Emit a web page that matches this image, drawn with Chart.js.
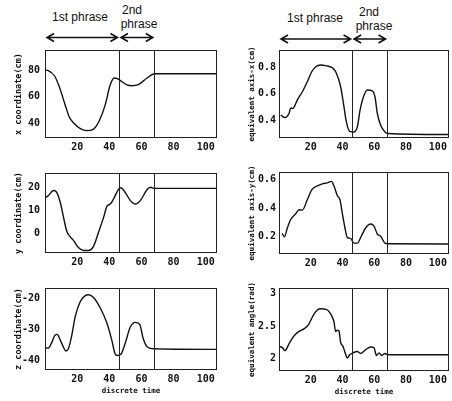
<!DOCTYPE html>
<html>
<head>
<meta charset="utf-8">
<script src="https://cdn.jsdelivr.net/npm/chart.js@4.4.0/dist/chart.umd.min.js"></script>
<style>
body { margin: 0; background: #fff; width: 452px; height: 401px; position: relative; overflow: hidden; font-family: "Liberation Sans", Arial, sans-serif; }
canvas { position: absolute; }
.lbl { position: absolute; font-size: 12px; line-height: 14px; color: #111; transform: translateX(-50%); white-space: nowrap; }
</style>
</head>
<body>
<div class="lbl" style="left:80px;top:10px">1st phrase</div>
<div class="lbl" style="left:132px;top:3px">2nd</div>
<div class="lbl" style="left:139px;top:17px">phrase</div>
<div class="lbl" style="left:315px;top:11px">1st phrase</div>
<div class="lbl" style="left:369px;top:5px">2nd</div>
<div class="lbl" style="left:374px;top:19px">phrase</div>

<canvas id="c1"></canvas>
<canvas id="c2"></canvas>
<canvas id="c3"></canvas>
<canvas id="c4"></canvas>
<canvas id="c5"></canvas>
<canvas id="c6"></canvas>

<script>
// axes shared by all six panels
const xMin = 0, xMax = 107;
const xTicks = [20, 40, 60, 80, 100];
const phaseBounds = [46, 68];   // end of 1st phrase, end of 2nd phrase

// x coordinate (cm)
const xCoordT = [0, 2, 6, 9, 12.5, 15, 18, 22, 26, 30, 34, 37.5, 40.5, 43, 45, 47, 51, 54, 58, 63.5, 68, 107];
const xCoordV = [80, 79.6, 75.5, 67, 54, 45, 40, 36, 34.5, 35.5, 42.5, 54, 68.5, 74, 73.5, 72, 68.8, 68.2, 69, 74, 77.2, 77.2];
const xCoordTicks = [40, 60, 80];

// y coordinate (cm)
const yCoordT = [0, 2, 5.2, 6.9, 9.4, 11.5, 13.5, 15.6, 17.7, 20.8, 24, 27, 30, 33.3, 36.5, 38.5, 40.6, 42.7, 45.8, 47.2, 50, 53, 56.2, 59.4, 63.5, 65.6, 68, 107];
const yCoordV = [15.4, 16.3, 18.6, 18.2, 13.7, 7, 1, -1.5, -3.1, -6.2, -7.5, -7.5, -5.9, 0.4, 7, 11.7, 12.7, 15, 19.2, 19.8, 17.6, 14.3, 12.7, 14.3, 19, 20, 19.5, 19.5];
const yCoordTicks = [0, 10, 20];

// z coordinate (cm)
const zCoordT = [0, 2, 4.2, 6.25, 7.7, 9.4, 11.5, 12.9, 14.6, 16.7, 18.75, 21.9, 25, 27, 30, 34.4, 38.5, 41.7, 43.5, 45, 47.3, 50, 53, 56.25, 59, 61, 63.5, 68, 107];
const zCoordV = [-35.8, -36.1, -34.3, -31.8, -31.6, -33.3, -35.8, -37, -36.2, -31.8, -25.9, -21, -19, -18.7, -19.5, -23, -27.9, -33.8, -37.8, -38.5, -38, -34.3, -29.3, -27.7, -28.4, -32.8, -35.6, -36.3, -36.5];
const zCoordTicks = [-40, -30, -20];

// equivalent axis-x (cm)
const axisXT = [1.1, 3.8, 6.3, 7.4, 8.4, 9.4, 11.5, 14.7, 17.8, 20.6, 23.1, 26.2, 29.4, 33.6, 35.7, 38.8, 40.9, 42.4, 44.5, 47.2, 49.3, 51, 52.8, 55.6, 58.7, 60.4, 61.9, 64, 66.7, 68.6, 107];
const axisXV = [0.438, 0.42, 0.451, 0.494, 0.489, 0.497, 0.552, 0.616, 0.692, 0.768, 0.806, 0.819, 0.814, 0.798, 0.768, 0.654, 0.501, 0.387, 0.316, 0.311, 0.349, 0.476, 0.565, 0.629, 0.623, 0.578, 0.451, 0.362, 0.311, 0.299, 0.291];
const axisXTicks = [0.4, 0.6, 0.8];

// equivalent axis-y (cm)
const axisYT = [2, 3.4, 5.3, 7.3, 10.5, 12.6, 14.7, 17.8, 20.6, 24.1, 27.3, 30.4, 33.1, 34.6, 36.7, 38.4, 39.9, 41.5, 43, 45, 47.2, 49.3, 52, 54.6, 57.7, 59.8, 61.9, 64, 66.7, 68.6, 107];
const axisYV = [0.225, 0.2, 0.264, 0.32, 0.362, 0.39, 0.388, 0.46, 0.53, 0.557, 0.572, 0.579, 0.589, 0.557, 0.49, 0.46, 0.362, 0.264, 0.195, 0.19, 0.156, 0.156, 0.21, 0.264, 0.29, 0.275, 0.22, 0.205, 0.156, 0.152, 0.15];
const axisYTicks = [0.2, 0.4, 0.6];

// equivalent angle (rad)
const angleT = [0.4, 2.1, 3.8, 6.3, 9.4, 12.6, 15.7, 18.5, 21.4, 24.1, 26.2, 29.8, 32.5, 34.6, 35.6, 36.7, 37.7, 38.8, 40.3, 41.5, 43, 44.5, 46.6, 49.3, 51.4, 54.6, 57.7, 59.8, 61.3, 63, 64.6, 66.7, 68.6, 107];
const angleV = [2.19, 2.17, 2.125, 2.23, 2.35, 2.42, 2.46, 2.52, 2.66, 2.75, 2.77, 2.76, 2.69, 2.57, 2.42, 2.44, 2.43, 2.25, 2.19, 2.1, 2.01, 2.06, 2.09, 2.11, 2.08, 2.14, 2.18, 2.17, 2.05, 2.09, 2.05, 2.08, 2.06, 2.06];
const angleTicks = [2, 2.5, 3];

const monoFont = '"DejaVu Sans Mono", "Liberation Mono", monospace';
const ink = '#111';

// box, vertical lines and phase arrows
const framePlugin = {
    id: 'frame',
    afterDatasetsDraw(chart, args, opts) {
        const ctx = chart.ctx;
        const a = chart.chartArea;
        const x = chart.scales.x;
        ctx.save();
        ctx.strokeStyle = '#222';
        ctx.lineWidth = 1;
        ctx.strokeRect(a.left + 0.5, a.top + 0.5, a.right - a.left - 1, a.bottom - a.top - 1);
        phaseBounds.forEach(v => {
            const px = Math.round(x.getPixelForValue(v)) + 0.5;
            ctx.beginPath();
            ctx.moveTo(px, a.top);
            ctx.lineTo(px, a.bottom);
            ctx.stroke();
        });
        if (opts.arrows) {
            const y = a.top - opts.arrowGap;
            const spans = [[xMin, phaseBounds[0]], [phaseBounds[0], phaseBounds[1]]];
            ctx.strokeStyle = ink;
            ctx.lineWidth = 1.6;
            spans.forEach(s => {
                const x1 = x.getPixelForValue(s[0]) + 2;
                const x2 = x.getPixelForValue(s[1]) - 1.5;
                ctx.beginPath();
                ctx.moveTo(x1, y);
                ctx.lineTo(x2, y);
                ctx.moveTo(x1 + 7, y - 4);
                ctx.lineTo(x1, y);
                ctx.lineTo(x1 + 7, y + 4);
                ctx.moveTo(x2 - 7, y - 4);
                ctx.lineTo(x2, y);
                ctx.lineTo(x2 - 7, y + 4);
                ctx.stroke();
            });
        }
        ctx.restore();
    }
};

function makePanel(id, box, ts, vs, yMin, yMax, yTicks, yTitle, extra) {
    const axisW = 31, padR = 3;
    const padTop = extra.arrows ? 20 : 3;
    const axisH = extra.xTitle ? 26 : 16;
    const cv = document.getElementById(id);
    const left = box[0] - axisW;
    const top = box[1] - padTop;
    cv.width = box[2] + padR - left;
    cv.height = box[3] + axisH - top;
    cv.style.left = left + 'px';
    cv.style.top = top + 'px';

    const points = ts.map((t, i) => ({ x: t, y: vs[i] }));

    new Chart(cv, {
        type: 'line',
        data: {
            datasets: [{
                data: points,
                borderColor: ink,
                borderWidth: 1.4,
                pointRadius: 0,
                cubicInterpolationMode: 'monotone',
                fill: false
            }]
        },
        options: {
            responsive: false,
            animation: false,
            devicePixelRatio: 1,
            layout: { padding: { top: padTop, right: padR, left: 0, bottom: 0 } },
            plugins: {
                legend: { display: false },
                tooltip: { enabled: false },
                frame: { arrows: !!extra.arrows, arrowGap: extra.arrowGap || 12 }
            },
            scales: {
                x: {
                    type: 'linear',
                    min: xMin,
                    max: xMax,
                    grid: { display: false, drawTicks: false },
                    border: { display: false },
                    afterBuildTicks: s => { s.ticks = xTicks.map(v => ({ value: v })); },
                    afterFit: s => { s.height = axisH; },
                    ticks: {
                        padding: 3,
                        maxRotation: 0,
                        color: ink,
                        font: { family: monoFont, size: 10, weight: 'bold' },
                        callback: v => v
                    },
                    title: {
                        display: !!extra.xTitle,
                        text: extra.xTitle || '',
                        color: ink,
                        padding: 0,
                        font: { family: monoFont, size: 7.5, weight: 'bold' }
                    }
                },
                y: {
                    min: yMin,
                    max: yMax,
                    grid: { display: false, drawTicks: false },
                    border: { display: false },
                    afterBuildTicks: s => { s.ticks = yTicks.map(v => ({ value: v })); },
                    afterFit: s => { s.width = axisW; },
                    ticks: {
                        padding: extra.tickPad,
                        color: ink,
                        font: { family: monoFont, size: 10, weight: 'bold' },
                        callback: v => v
                    },
                    title: {
                        display: true,
                        text: yTitle,
                        color: ink,
                        padding: 0,
                        font: { family: monoFont, size: extra.titleSize, weight: 'bold' }
                    }
                }
            }
        },
        plugins: [framePlugin]
    });
}

makePanel('c1', [45, 50, 217, 138], xCoordT, xCoordV, 29, 95, xCoordTicks, 'x coordinate(cm)',
    { arrows: true, arrowGap: 12.5, tickPad: 5, titleSize: 8.5 });
makePanel('c2', [45, 165, 217, 253], yCoordT, yCoordV, -8.6, 26.2, yCoordTicks, 'y coordinate(cm)',
    { tickPad: 5, titleSize: 8.5 });
makePanel('c3', [45, 280, 217, 370], zCoordT, zCoordV, -43.2, -16.5, zCoordTicks, 'z coordinate(cm)',
    { tickPad: 5, titleSize: 8.5, xTitle: 'discrete time' });
makePanel('c4', [279, 50, 449, 138], axisXT, axisXV, 0.265, 0.933, axisXTicks, 'equivalent axis-x(cm)',
    { arrows: true, arrowGap: 11, tickPad: 3, titleSize: 7.5 });
makePanel('c5', [279, 166, 449, 254], axisYT, axisYV, 0.08, 0.655, axisYTicks, 'equivalent axis-y(cm)',
    { tickPad: 3, titleSize: 7.5 });
makePanel('c6', [279, 282, 449, 371], angleT, angleV, 1.81, 3.09, angleTicks, 'equivalent angle(rad)',
    { tickPad: 3, titleSize: 7.5, xTitle: 'discrete time' });
</script>
</body>
</html>
